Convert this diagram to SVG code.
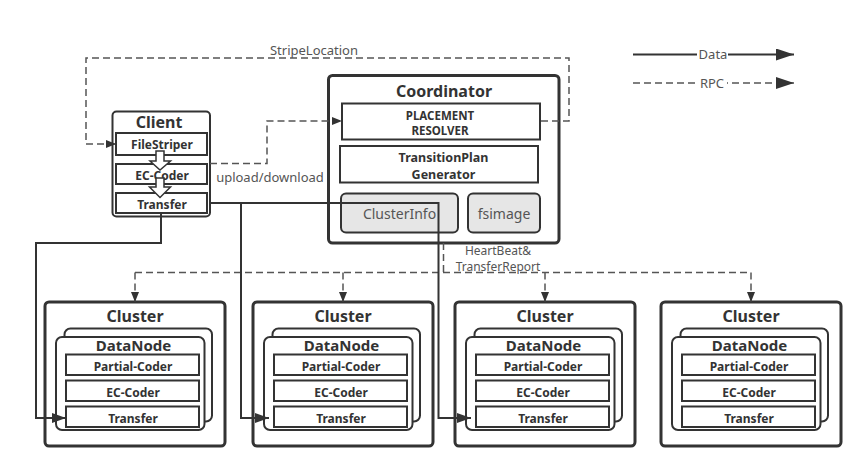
<svg xmlns="http://www.w3.org/2000/svg" width="864" height="470" viewBox="0 0 864 470">
<defs>
<style>
.t{font-family:"Noto Sans","Open Sans",sans-serif;fill:#333;text-anchor:middle}
.b{font-weight:bold}
.lbl{font-family:"Noto Sans","Open Sans",sans-serif;fill:#555;font-size:13px;text-anchor:middle}
.big{fill:#fff;stroke:#333;stroke-width:3}
.box{fill:#fff;stroke:#333;stroke-width:2}
.gray{fill:#e6e6e6;stroke:#333;stroke-width:2}
.data{fill:none;stroke:#333;stroke-width:2}
.rpc{fill:none;stroke:#555;stroke-width:1.5;stroke-dasharray:7 4}
.hollow{fill:#fff;stroke:#333;stroke-width:1.5;stroke-linejoin:miter}
</style>
<marker id="ah" markerUnits="userSpaceOnUse" markerWidth="10" markerHeight="8" refX="10" refY="4" orient="auto">
<path d="M0,0 L10,4 L0,8 z" fill="#333"/>
</marker>
<marker id="ahD" markerUnits="userSpaceOnUse" markerWidth="14" markerHeight="10" refX="14" refY="5" orient="auto">
<path d="M0,0 L14,5 L0,10 z" fill="#333"/>
</marker>
<marker id="ahL" markerUnits="userSpaceOnUse" markerWidth="18" markerHeight="12" refX="18" refY="6" orient="auto">
<path d="M0,0 L18,6 L0,12 z" fill="#333"/>
</marker>
</defs>
<rect width="864" height="470" fill="#fff"/>

<g id="legend">
<path d="M633,54.5 H794" class="data" marker-end="url(#ahL)"/>
<rect x="697" y="46" width="31" height="16" fill="#fff"/>
<text class="lbl" x="713" y="59">Data</text>
<path d="M633,83 H794" class="rpc" marker-end="url(#ahL)"/>
<rect x="697" y="75" width="30" height="16" fill="#fff"/>
<text class="lbl" x="712" y="88">RPC</text>
</g>

<g id="client">
<rect x="112.5" y="111.5" width="97.5" height="105" rx="4" class="box" stroke-width="2.5"/>
<text class="t b" x="159" y="128" font-size="16">Client</text>
<rect x="116" y="133" width="91" height="22" class="box"/>
<text class="t b" x="162" y="149.3" font-size="12">FileStriper</text>
<rect x="116" y="164" width="91" height="20" class="box"/>
<text class="t b" x="162" y="180" font-size="12">EC-Coder</text>
<rect x="116" y="193" width="91" height="20" class="box"/>
<text class="t b" x="162" y="208.8" font-size="12">Transfer</text>
<path class="hollow" d="M156,151 H164 V161 H170.5 L160,170 L150,161 H156 Z"/>
<path class="hollow" d="M156,178 H164 V187 H170.5 L160,197.5 L149.5,187 H156 Z"/>
</g>

<g id="coordinator">
<rect x="328.5" y="75.5" width="230.5" height="167.5" rx="4" class="big"/>
<text class="t b" x="444" y="96.5" font-size="16">Coordinator</text>
<g id="placement-resolver">
<rect x="342" y="103.5" width="198" height="36" class="box"/>
<text class="t b" x="440" y="120" font-size="11.5">PLACEMENT</text>
<text class="t b" x="440" y="135" font-size="11.5">RESOLVER</text>
</g>
<g id="transition-plan-generator">
<rect x="340" y="146" width="198" height="36.5" class="box"/>
<text class="t b" x="443.5" y="161.6" font-size="12.5">TransitionPlan</text>
<text class="t b" x="443.5" y="178.8" font-size="12.5">Generator</text>
</g>
<g id="cluster-info">
<rect x="341" y="193.5" width="117" height="39" rx="5" class="gray"/>
<text class="t" x="399.5" y="218.8" font-size="14" style="fill:#555">ClusterInfo</text>
</g>
<g id="fsimage">
<rect x="468" y="193.5" width="72" height="39" rx="5" class="gray"/>
<text class="t" x="504" y="219" font-size="14" style="fill:#555">fsimage</text>
</g>
</g>

<g id="cluster1" transform="translate(45,0)">
<rect x="0" y="302" width="180" height="144" rx="4" class="big"/>
<text class="t b" x="90" y="321.7" font-size="16">Cluster</text>
<rect x="19.5" y="328.5" width="147.5" height="93" rx="6" class="box"/>
<rect x="11" y="337" width="148.5" height="93" rx="6" class="box"/>
<text class="t b" x="88.5" y="351" font-size="15">DataNode</text>
<rect x="21" y="354.5" width="133" height="20.5" class="box"/>
<text class="t b" x="88" y="371.3" font-size="12">Partial-Coder</text>
<rect x="21" y="380.5" width="133" height="20.5" class="box"/>
<text class="t b" x="88" y="397.3" font-size="12">EC-Coder</text>
<rect x="21" y="406.5" width="133" height="20.5" class="box"/>
<text class="t b" x="88" y="423" font-size="12">Transfer</text>
</g>
<g id="cluster2" transform="translate(253,0)">
<rect x="0" y="302" width="180" height="144" rx="4" class="big"/>
<text class="t b" x="90" y="321.7" font-size="16">Cluster</text>
<rect x="19.5" y="328.5" width="147.5" height="93" rx="6" class="box"/>
<rect x="11" y="337" width="148.5" height="93" rx="6" class="box"/>
<text class="t b" x="88.5" y="351" font-size="15">DataNode</text>
<rect x="21" y="354.5" width="133" height="20.5" class="box"/>
<text class="t b" x="88" y="371.3" font-size="12">Partial-Coder</text>
<rect x="21" y="380.5" width="133" height="20.5" class="box"/>
<text class="t b" x="88" y="397.3" font-size="12">EC-Coder</text>
<rect x="21" y="406.5" width="133" height="20.5" class="box"/>
<text class="t b" x="88" y="423" font-size="12">Transfer</text>
</g>
<g id="cluster3" transform="translate(455,0)">
<rect x="0" y="302" width="180" height="144" rx="4" class="big"/>
<text class="t b" x="90" y="321.7" font-size="16">Cluster</text>
<rect x="19.5" y="328.5" width="147.5" height="93" rx="6" class="box"/>
<rect x="11" y="337" width="148.5" height="93" rx="6" class="box"/>
<text class="t b" x="88.5" y="351" font-size="15">DataNode</text>
<rect x="21" y="354.5" width="133" height="20.5" class="box"/>
<text class="t b" x="88" y="371.3" font-size="12">Partial-Coder</text>
<rect x="21" y="380.5" width="133" height="20.5" class="box"/>
<text class="t b" x="88" y="397.3" font-size="12">EC-Coder</text>
<rect x="21" y="406.5" width="133" height="20.5" class="box"/>
<text class="t b" x="88" y="423" font-size="12">Transfer</text>
</g>
<g id="cluster4" transform="translate(661,0)">
<rect x="0" y="302" width="180" height="144" rx="4" class="big"/>
<text class="t b" x="90" y="321.7" font-size="16">Cluster</text>
<rect x="19.5" y="328.5" width="147.5" height="93" rx="6" class="box"/>
<rect x="11" y="337" width="148.5" height="93" rx="6" class="box"/>
<text class="t b" x="88.5" y="351" font-size="15">DataNode</text>
<rect x="21" y="354.5" width="133" height="20.5" class="box"/>
<text class="t b" x="88" y="371.3" font-size="12">Partial-Coder</text>
<rect x="21" y="380.5" width="133" height="20.5" class="box"/>
<text class="t b" x="88" y="397.3" font-size="12">EC-Coder</text>
<rect x="21" y="406.5" width="133" height="20.5" class="box"/>
<text class="t b" x="88" y="423" font-size="12">Transfer</text>
</g>

<g id="connectors">
<path class="rpc" d="M541,121 H569 V58 H86 V144 H116" marker-end="url(#ah)"/>
<text class="lbl" x="314" y="55">StripeLocation</text>
<path class="rpc" d="M210,163.5 H267 V121 H342" marker-end="url(#ah)"/>
<text class="lbl" x="270" y="181.5">upload/download</text>
<path class="rpc" d="M443.5,243 V272.5"/>
<path class="rpc" d="M135,272.5 H751"/>
<path class="rpc" d="M135,272.5 V302" marker-end="url(#ah)"/>
<path class="rpc" d="M343,272.5 V302" marker-end="url(#ah)"/>
<path class="rpc" d="M545,272.5 V302" marker-end="url(#ah)"/>
<path class="rpc" d="M751,272.5 V302" marker-end="url(#ah)"/>
<text class="lbl" x="498" y="254.5" font-size="12" style="font-size:12px">HeartBeat&amp;</text>
<text class="lbl" x="498" y="271" font-size="12" style="font-size:12px">TransferReport</text>
<path class="data" d="M161,213 V243 H36 V418 H66" marker-end="url(#ahD)"/>
<path class="data" d="M210,203 H438.5 V418 H471" marker-end="url(#ahD)"/>
<path class="data" d="M241,203 V418 H269" marker-end="url(#ahD)"/>
</g>
</svg>
